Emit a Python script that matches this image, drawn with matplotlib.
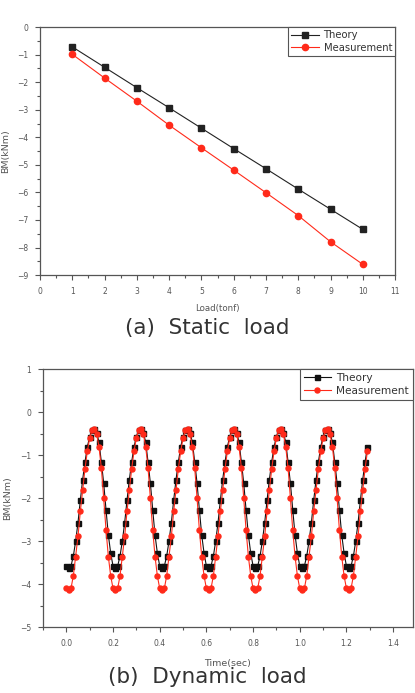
import numpy as np
import matplotlib
matplotlib.use("Agg")
import matplotlib.pyplot as plt
from matplotlib.ticker import MultipleLocator

# (a) static load test
load_tonf = [1, 2, 3, 4, 5, 6, 7, 8, 9, 10]
static_theory = [-0.72, -1.46, -2.20, -2.93, -3.67, -4.41, -5.14, -5.88, -6.61, -7.34]
static_meas = [-0.99, -1.85, -2.69, -3.56, -4.38, -5.19, -6.01, -6.84, -7.79, -8.61]

# (b) dynamic load test, sampled every 0.01 sec from 0.00 to 1.29
time_sec = np.arange(130) * 0.01
dyn_theory = [
    -3.58, -3.62, -3.58, -3.35, -3.00, -2.57, -2.05, -1.57, -1.16, -0.81,
    -0.57, -0.42, -0.40, -0.48, -0.70, -1.16, -1.65, -2.27, -2.86, -3.28,
    -3.58, -3.62, -3.58, -3.35, -3.00, -2.57, -2.05, -1.57, -1.16, -0.81,
    -0.57, -0.42, -0.40, -0.48, -0.70, -1.16, -1.65, -2.27, -2.86, -3.28,
    -3.58, -3.62, -3.58, -3.35, -3.00, -2.57, -2.05, -1.57, -1.16, -0.81,
    -0.57, -0.42, -0.40, -0.48, -0.70, -1.16, -1.65, -2.27, -2.86, -3.28,
    -3.58, -3.62, -3.58, -3.35, -3.00, -2.57, -2.05, -1.57, -1.16, -0.81,
    -0.57, -0.42, -0.40, -0.48, -0.70, -1.16, -1.65, -2.27, -2.86, -3.28,
    -3.58, -3.62, -3.58, -3.35, -3.00, -2.57, -2.05, -1.57, -1.16, -0.81,
    -0.57, -0.42, -0.40, -0.48, -0.70, -1.16, -1.65, -2.27, -2.86, -3.28,
    -3.58, -3.62, -3.58, -3.35, -3.00, -2.57, -2.05, -1.57, -1.16, -0.81,
    -0.57, -0.42, -0.40, -0.48, -0.70, -1.16, -1.65, -2.27, -2.86, -3.28,
    -3.58, -3.62, -3.58, -3.35, -3.00, -2.57, -2.05, -1.57, -1.16, -0.81,
]
dyn_meas = [
    -4.10, -4.14, -4.10, -3.81, -3.36, -2.89, -2.31, -1.81, -1.32, -0.91,
    -0.61, -0.42, -0.39, -0.52, -0.81, -1.30, -2.00, -2.74, -3.36, -3.81,
    -4.10, -4.14, -4.10, -3.81, -3.36, -2.89, -2.31, -1.81, -1.32, -0.91,
    -0.61, -0.42, -0.39, -0.52, -0.81, -1.30, -2.00, -2.74, -3.36, -3.81,
    -4.10, -4.14, -4.10, -3.81, -3.36, -2.89, -2.31, -1.81, -1.32, -0.91,
    -0.61, -0.42, -0.39, -0.52, -0.81, -1.30, -2.00, -2.74, -3.36, -3.81,
    -4.10, -4.14, -4.10, -3.81, -3.36, -2.89, -2.31, -1.81, -1.32, -0.91,
    -0.61, -0.42, -0.39, -0.52, -0.81, -1.30, -2.00, -2.74, -3.36, -3.81,
    -4.10, -4.14, -4.10, -3.81, -3.36, -2.89, -2.31, -1.81, -1.32, -0.91,
    -0.61, -0.42, -0.39, -0.52, -0.81, -1.30, -2.00, -2.74, -3.36, -3.81,
    -4.10, -4.14, -4.10, -3.81, -3.36, -2.89, -2.31, -1.81, -1.32, -0.91,
    -0.61, -0.42, -0.39, -0.52, -0.81, -1.30, -2.00, -2.74, -3.36, -3.81,
    -4.10, -4.14, -4.10, -3.81, -3.36, -2.89, -2.31, -1.81, -1.32, -0.91,
]

RED = '#ff2a1a'
AXC = '#555555'
TXT = '#555555'

plt.rcParams['font.family'] = 'DejaVu Sans'
fig = plt.figure(figsize=(4.15, 6.93), dpi=100)


def style_axes(ax):
    for s in ax.spines.values():
        s.set_color(AXC)
        s.set_linewidth(0.9)
    ax.tick_params(which='both', direction='out', colors=AXC, labelcolor=TXT,
                   labelsize=5.5, width=0.8, pad=5)
    ax.tick_params(which='major', length=3.5)
    ax.tick_params(which='minor', length=2)


# top panel
ax1 = fig.add_axes([0.0964, 0.603, 0.8556, 0.358])
ax1.plot(load_tonf, static_theory, color='#222222', lw=0.8, marker='s', ms=4.5,
         label='Theory')
ax1.plot(load_tonf, static_meas, color=RED, lw=0.8, marker='o', ms=4.5,
         label='Measurement')
ax1.set_xlim(0, 11)
ax1.set_ylim(-9, 0)
ax1.xaxis.set_major_locator(MultipleLocator(1))
ax1.xaxis.set_minor_locator(MultipleLocator(0.5))
ax1.yaxis.set_major_locator(MultipleLocator(1))
ax1.yaxis.set_minor_locator(MultipleLocator(0.5))
style_axes(ax1)
ax1.set_xlabel('Load(tonf)', fontsize=6.2, color=TXT, labelpad=6)
ax1.set_ylabel('BM(kNm)', fontsize=6.8, color=TXT)
ax1.yaxis.set_label_coords(-0.083, 0.5)
leg1 = ax1.legend(loc='upper right', fontsize=7.2, fancybox=False,
                  edgecolor=AXC, framealpha=1, borderaxespad=0,
                  handlelength=2.8, handletextpad=0.5, borderpad=0.3,
                  labelspacing=0.25)
leg1.get_frame().set_linewidth(0.8)
for t in leg1.get_texts():
    t.set_color('#333333')

# bottom panel
ax2 = fig.add_axes([0.1036, 0.0952, 0.8914, 0.3723])
ax2.plot(time_sec, dyn_theory, color='#111111', lw=0.8, marker='s', ms=3.6,
         label='Theory')
ax2.plot(time_sec, dyn_meas, color=RED, lw=0.8, marker='o', ms=3.6,
         label='Measurement')
ax2.set_xlim(-0.1, 1.485)
ax2.set_ylim(-5, 1)
ax2.set_xticks([0.0, 0.2, 0.4, 0.6, 0.8, 1.0, 1.2, 1.4])
ax2.xaxis.set_minor_locator(MultipleLocator(0.1))
ax2.yaxis.set_major_locator(MultipleLocator(1))
ax2.yaxis.set_minor_locator(MultipleLocator(0.5))
ax2.xaxis.set_major_formatter(plt.FormatStrFormatter('%.1f'))
style_axes(ax2)
ax2.set_xlabel('Time(sec)', fontsize=6.8, color=TXT, labelpad=8)
ax2.set_ylabel('BM(kNm)', fontsize=6.8, color=TXT)
ax2.yaxis.set_label_coords(-0.083, 0.5)
leg2 = ax2.legend(loc='upper right', fontsize=7.6, fancybox=False,
                  edgecolor=AXC, framealpha=1, borderaxespad=0,
                  handlelength=2.6, handletextpad=0.5, borderpad=0.35,
                  labelspacing=0.3)
leg2.get_frame().set_linewidth(0.8)
for t in leg2.get_texts():
    t.set_color('#333333')

fig.text(0.5, 1 - 328 / 693, '(a)  Static  load', ha='center', va='center',
         fontsize=15.5, color='#333333')
fig.text(0.5, 1 - 677 / 693, '(b)  Dynamic  load', ha='center', va='center',
         fontsize=15.5, color='#333333')

fig.savefig('out.png', dpi=100)
